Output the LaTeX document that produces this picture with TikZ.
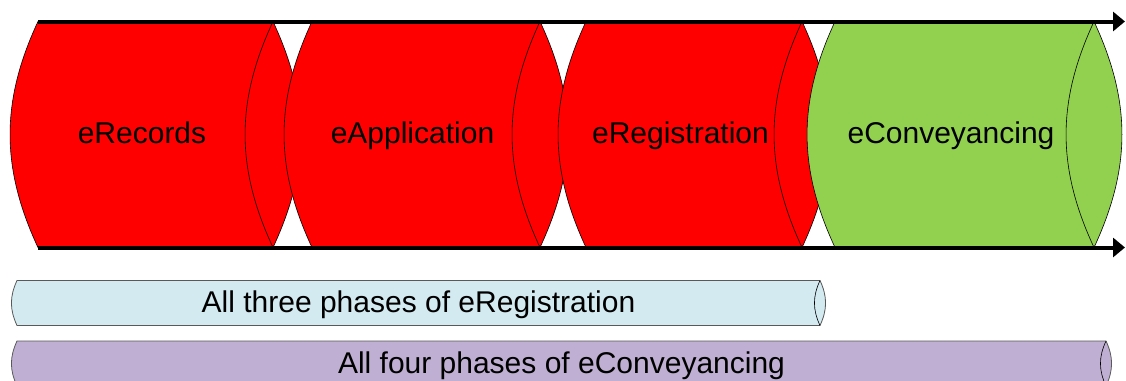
\documentclass[tikz,border=0pt]{standalone}
\usepackage{fontspec}
\setmainfont{Liberation Sans}
\usetikzlibrary{arrows.meta}
\definecolor{phaseRed}{RGB}{255,0,0}
\definecolor{phaseGreen}{RGB}{146,208,80}
\definecolor{spanBlue}{RGB}{210,234,240}
\definecolor{spanPurple}{RGB}{191,176,211}
\tikzset{
    bar length/.store in=\barLen,
    bar length=100
}
\tikzset{
    phase/.pic={
		\path[pic actions, draw=black, line width=0.6pt] (0,0) -- (\barLen,0) to[bend left=25] (\barLen,226) -- (0,226) to[bend left=25] (0,0) -- cycle;
		\draw[line width=0.6pt] (\barLen,0) to[bend right=25] (\barLen,226);
		\node[font=\fontsize{30}{36}\selectfont, anchor=base] (-label) at (\barLen/2-13.5,121.5) {#1};
	}
}
\tikzset{
    span/.pic={
		\path[pic actions, draw=black!65, line width=0.8pt] (0,0) -- (\barLen,0) to[bend left=25] (\barLen,45) -- (0,45) to[bend left=25] (0,0) -- cycle;
		\draw[line width=0.6pt] (\barLen,0) to[bend right=25] (\barLen,45);
		\node[font=\fontsize{30}{36}\selectfont, anchor=base] (-label) at (\barLen/2,32) {#1};
	}
}
\begin{document}
\begin{tikzpicture}[x=1pt,y=-1pt]
			\useasboundingbox (0,0) rectangle (1126,380);
			\clip (0,0) rectangle (1126,380);
			\pic[fill=phaseRed, bar length=235] (records) at (38,21.5) {phase={eRecords}};
			\pic[fill=phaseRed, bar length=228] (application) at (312,21.5) {phase={eApplication}};
			\pic[fill=phaseRed, bar length=216] (registration) at (586,21.5) {phase={eRegistration}};
			\pic[fill=phaseGreen, bar length=259] (conveyancing) at (835,21.5) {phase={eConveyancing}};
			\pic[fill=spanBlue, bar length=803] (threePhases) at (17,280.5) {span={All three phases of eRegistration}};
			\pic[fill=spanPurple, bar length=1089] (fourPhases) at (17,341) {span={All four phases of eConveyancing}};
			\coordinate (topStart) at (38,21.5);
			\coordinate (topEnd) at (1125,21.5);
			\coordinate (bottomStart) at (38,247.5);
			\coordinate (bottomEnd) at (1125,247.5);
			\draw[line width=4pt, -{Triangle[length=12pt,width=19pt]}] (topStart) -- (topEnd);
			\draw[line width=4pt, -{Triangle[length=12pt,width=19pt]}] (bottomStart) -- (bottomEnd);
		\end{tikzpicture}
\end{document}
